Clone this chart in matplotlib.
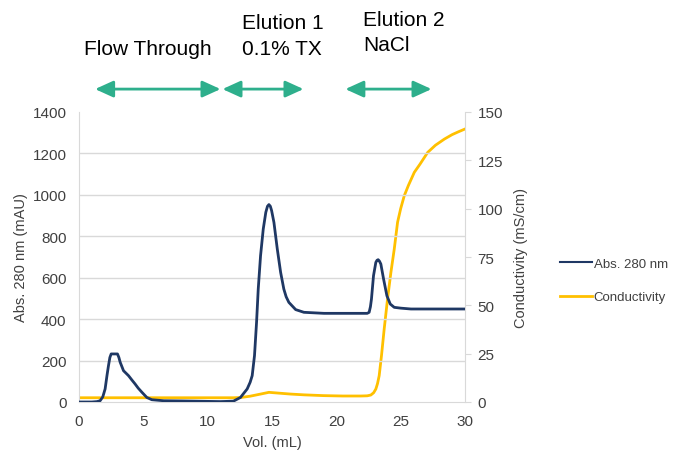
import matplotlib
matplotlib.use('Agg')
import matplotlib.pyplot as plt
import matplotlib.transforms as mtransforms

plt.rcParams['font.family'] = ['Liberation Sans', 'DejaVu Sans']

# Abs. 280 nm trace (mAU) vs volume (mL)
abs_vol = [0, 1.0, 1.4, 1.64, 1.85, 2.03, 2.18, 2.29, 2.4, 2.5, 2.99, 3.1, 3.2,
           3.46, 3.85, 4.1, 4.36, 4.6, 4.89, 5.27, 5.66, 6.6, 8.0, 9.0, 10.0,
           11.0, 12.0, 12.55, 13.07, 13.3, 13.46, 13.64, 13.8, 13.93, 14.11, 14.32,
           14.52, 14.65, 14.76, 14.87, 14.97, 15.15, 15.41, 15.67, 15.92, 16.1,
           16.31, 16.84, 17.48, 19.04, 21.9, 22.4, 22.55, 22.65, 22.73, 22.89,
           23.07, 23.16, 23.25, 23.35, 23.46, 23.67, 23.93, 24.19, 24.5, 25.02,
           25.8, 28.0, 30.0]
abs_mau = [0, 0, 2, 6, 25, 63, 130, 175, 215, 232, 232, 215, 192,
           151, 127, 107, 87, 67, 47, 22, 11, 6, 5, 4, 3,
           2, 4, 22, 63, 95, 127, 224, 385, 545, 706, 835,
           916, 945, 953, 945, 924, 867, 739, 626, 545, 508,
           481, 446, 433, 428, 428, 428, 433, 460, 497, 610,
           674, 684, 687, 680, 666, 594, 513, 473, 457, 453,
           449, 449, 449]

# Conductivity trace (mS/cm) vs volume (mL)
cond_vol = [0, 5, 10, 12.0, 12.55, 13.3, 14.11, 14.76, 15.5, 16.45, 17.5, 19.0,
            20.5, 21.9, 22.4, 22.68, 22.9, 23.07, 23.2, 23.33, 23.51, 23.72,
            23.98, 24.24, 24.5, 24.76, 25.0, 25.28, 25.6, 26.06, 26.5, 27.1,
            27.7, 28.4, 29.0, 29.5, 30.0]
cond_ms = [2.2, 2.2, 2.2, 2.2, 2.3, 3.0, 4.1, 5.0, 4.6, 4.1, 3.7, 3.3,
           3.1, 3.1, 3.2, 3.6, 4.8, 6.7, 9.5, 13.6, 24, 37.8,
           53.3, 67, 79, 93, 100, 106.7, 112, 118.8, 123, 129.1,
           132.8, 136, 138.3, 139.8, 141.2]

# fraction spans (mL) shown as arrows above the plot
spans = [(1.25, 11.0), (11.15, 17.45), (20.7, 27.4)]

blue = '#1F3864'
yellow = '#FFC000'
green = '#2EAF8C'
txt = '#404040'

fig = plt.figure(figsize=(6.86, 4.56), dpi=100)
ax = fig.add_axes([79 / 686, 53 / 456, 386 / 686, 290 / 456])
ax2 = ax.twinx()

ax.set_xlim(0, 30)
ax.set_ylim(0, 1400)
ax.set_xticks([0, 5, 10, 15, 20, 25, 30])
ax.set_yticks(range(0, 1401, 200))
for v in range(200, 1201, 200):
    ax.axhline(v, color='#D9D9D9', lw=1, zorder=0)

ax2.set_ylim(0, 150)
ax2.set_yticks(range(0, 151, 25))

l1, = ax.plot(abs_vol, abs_mau, color=blue, lw=2.0, label='Abs. 280 nm', zorder=3)
l2, = ax2.plot(cond_vol, cond_ms, color=yellow, lw=2.0, label='Conductivity', zorder=2)

for a in (ax, ax2):
    for s in a.spines.values():
        s.set_visible(False)
ax.spines['left'].set_visible(True)
ax.spines['bottom'].set_visible(True)
ax.spines['left'].set_color('#D9D9D9')
ax.spines['bottom'].set_color('#D9D9D9')
ax2.spines['right'].set_visible(True)
ax2.spines['right'].set_color('#D9D9D9')

ax.tick_params(axis='both', length=0, labelsize=11, labelcolor=txt, pad=9)
ax2.tick_params(axis='y', length=4, color='#D9D9D9', labelsize=11, labelcolor=txt, pad=5)

ax.set_xlabel('Vol. (mL)', fontsize=10.5, color=txt, labelpad=5)
ax.set_ylabel('Abs. 280 nm (mAU)', fontsize=10.5, color=txt, labelpad=3)
ax2.set_ylabel('Conductivity (mS/cm)', fontsize=10.5, color=txt, labelpad=8)

ax.set_zorder(ax2.get_zorder() + 1)
ax.patch.set_visible(False)

# arrows and fraction labels
for x0, x1 in spans:
    ax.annotate('', xy=(x1, 1.079), xytext=(x0, 1.079),
                xycoords=('data', 'axes fraction'), textcoords=('data', 'axes fraction'),
                arrowprops=dict(arrowstyle='<|-|>,head_length=1.1,head_width=0.5',
                                color=green, lw=2, shrinkA=0, shrinkB=0),
                annotation_clip=False)

trans = mtransforms.blended_transform_factory(ax.transData, ax.transAxes)
ax.text(5.34, 1.22, 'Flow Through', transform=trans, ha='center', va='center',
        fontsize=15, color='black')
ax.text(12.7, 1.31, 'Elution 1', transform=trans, ha='left', va='center',
        fontsize=15, color='black')
ax.text(12.7, 1.22, '0.1% TX', transform=trans, ha='left', va='center',
        fontsize=15, color='black')
ax.text(22.06, 1.318, 'Elution 2', transform=trans, ha='left', va='center',
        fontsize=15, color='black')
ax.text(22.06, 1.232, 'NaCl', transform=trans, ha='left', va='center',
        fontsize=15, color='black')

fig.legend(handles=[l1, l2], loc='center left', bbox_to_anchor=(560 / 686, 174.5 / 456),
           frameon=False, fontsize=9.5, handlelength=2.4, handletextpad=0.15,
           labelspacing=1.6, borderpad=0, borderaxespad=0)
for t in fig.legends[0].get_texts():
    t.set_color(txt)
fig.legends[0].get_lines()[0].set_linewidth(1.5)

fig.savefig('out.png', dpi=100)
